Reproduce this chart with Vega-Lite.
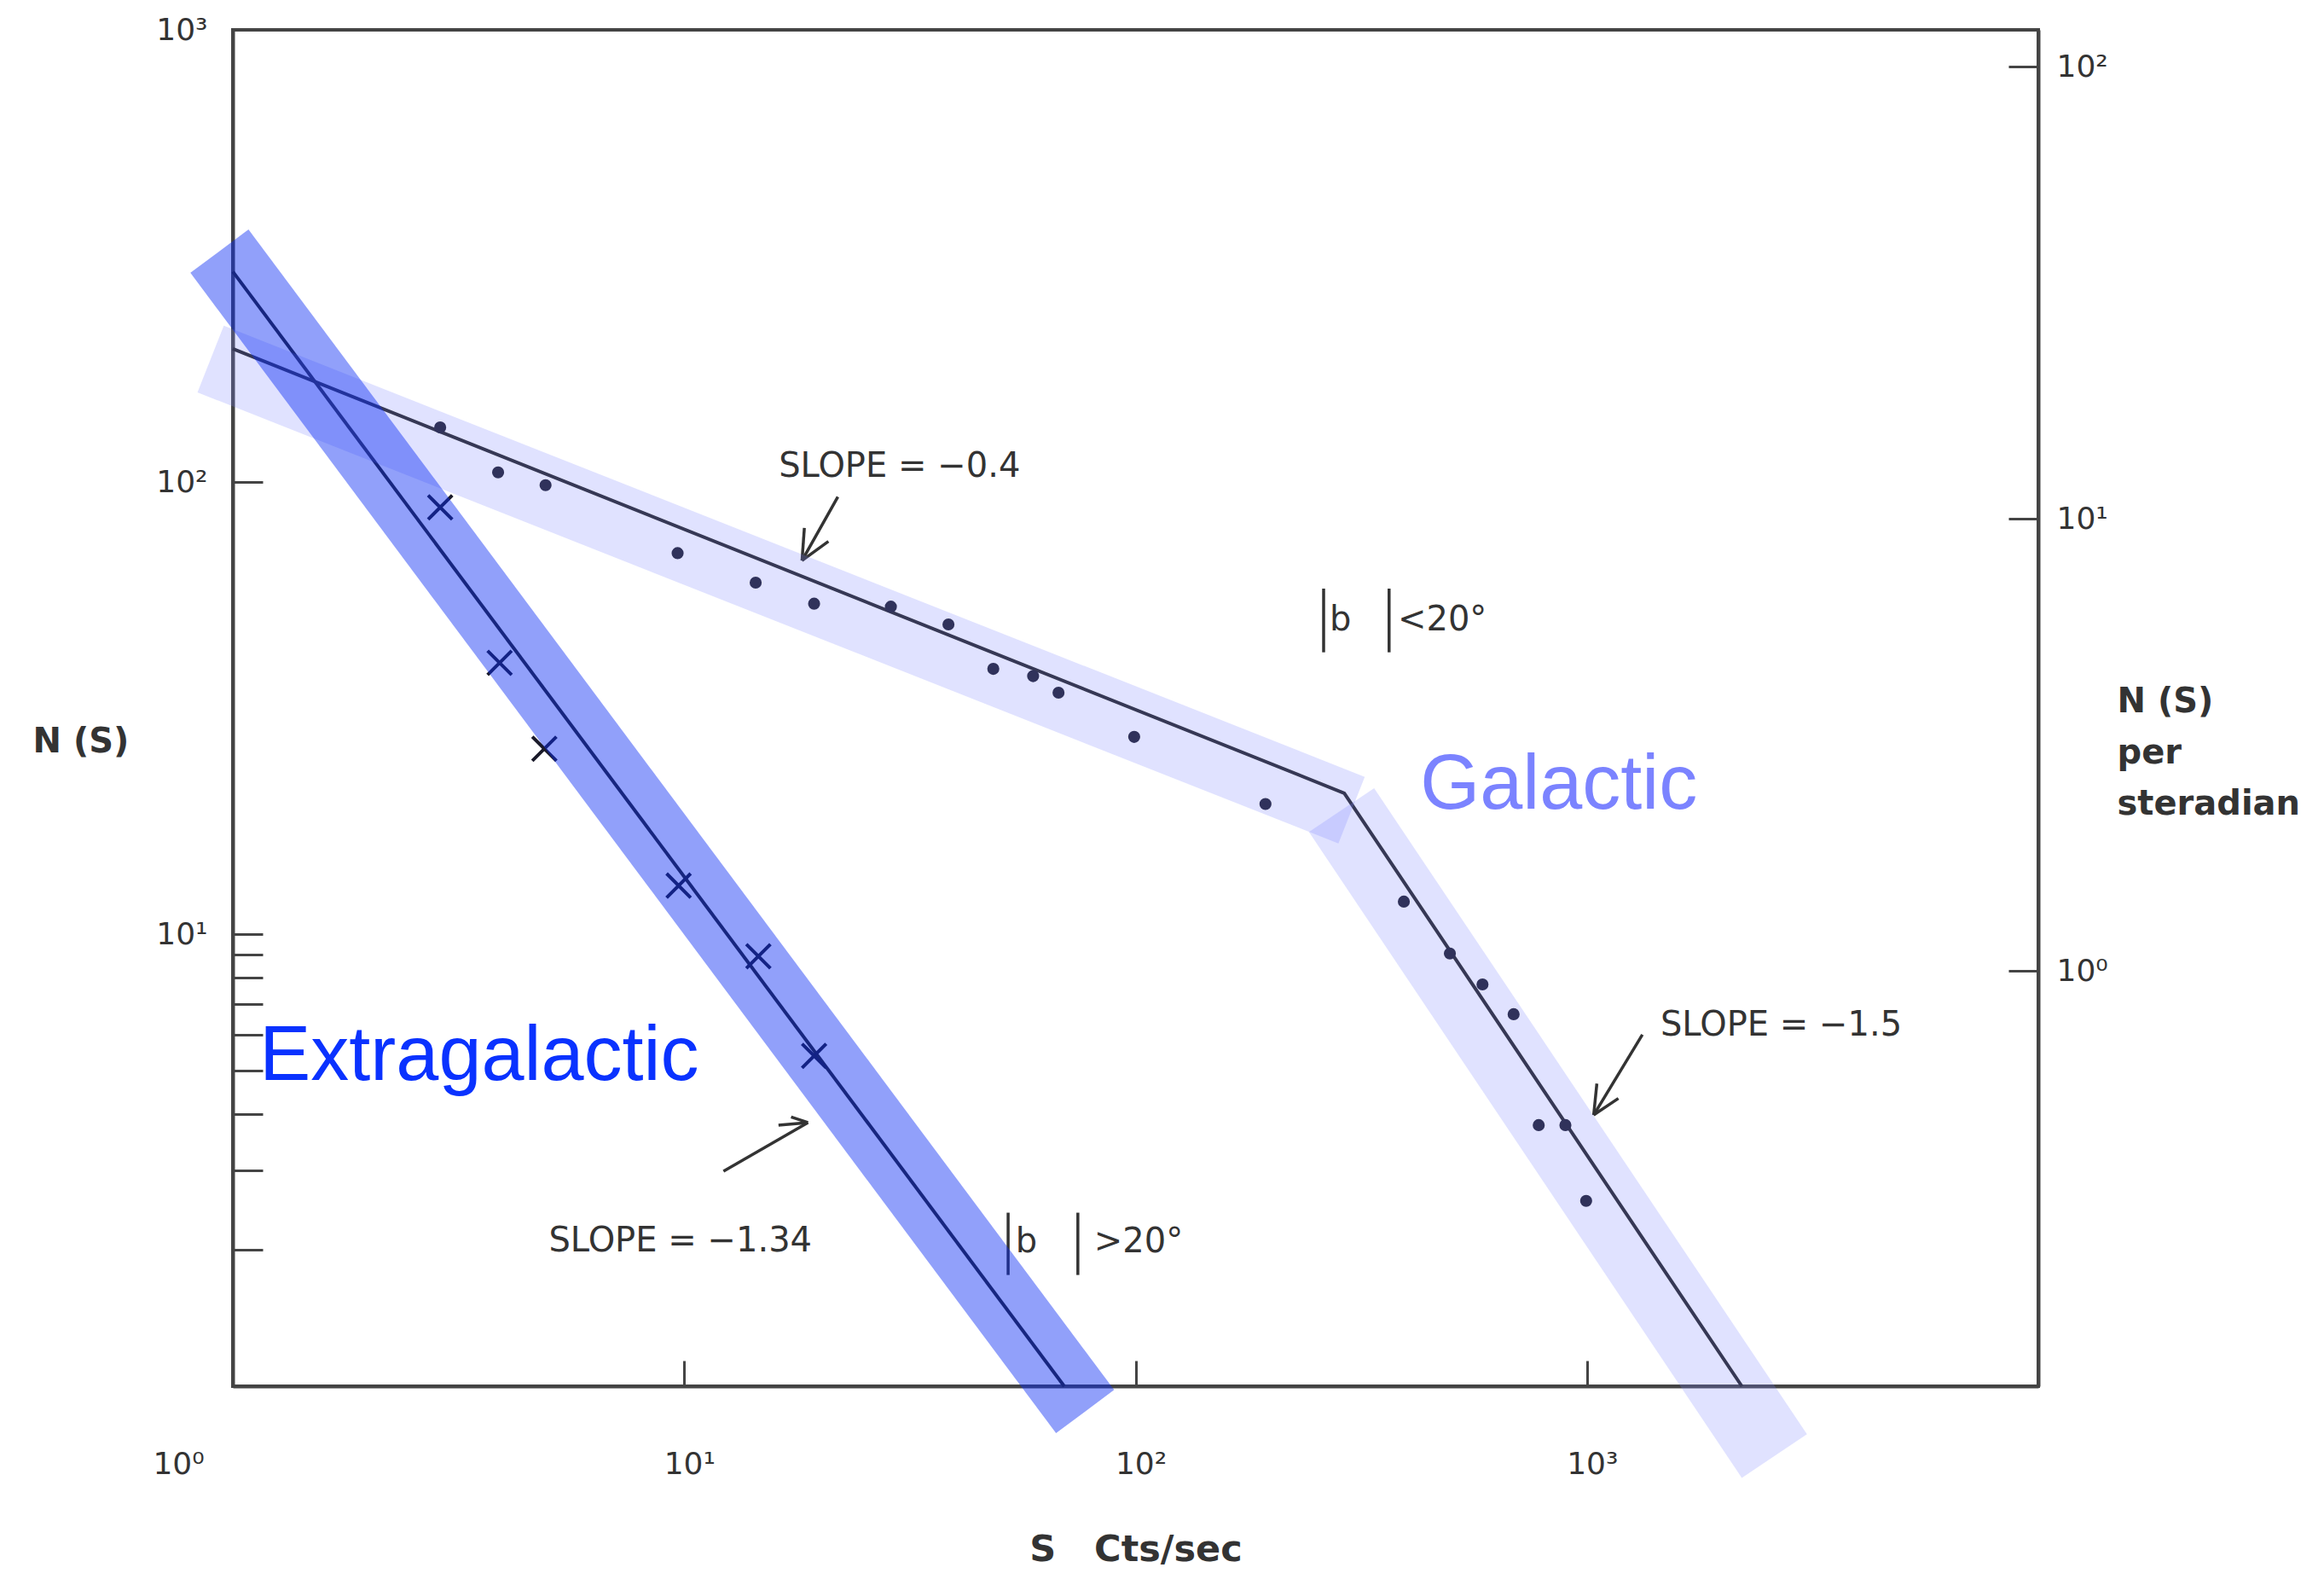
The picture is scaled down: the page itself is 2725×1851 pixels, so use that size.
{
  "$schema": "https://vega.github.io/schema/vega-lite/v6.json",
  "width": 2117,
  "height": 1590,
  "autosize": {"type": "none"},
  "padding": {"left": 273, "top": 35, "right": 335, "bottom": 226},
  "background": "white",
  "config": {
    "view": {"stroke": "#444", "strokeWidth": 4},
    "font": "DejaVu Sans"
  },
  "datasets": {
    "fits": [
      {"series": "extra", "S": 1, "N": 292},
      {"series": "extra", "S": 69.5, "N": 1},
      {"series": "gal", "S": 1, "N": 197},
      {"series": "gal", "S": 290, "N": 20.5},
      {"series": "gal", "S": 2204, "N": 1}
    ],
    "dots": [
      {"S": 2.88, "N": 132}, {"S": 3.87, "N": 105}, {"S": 4.93, "N": 98.4},
      {"S": 9.67, "N": 69.6}, {"S": 14.4, "N": 59.9}, {"S": 19.4, "N": 53.8},
      {"S": 28.7, "N": 53.0}, {"S": 38.5, "N": 48.4}, {"S": 48.4, "N": 38.6},
      {"S": 59.3, "N": 37.2}, {"S": 67.5, "N": 34.2}, {"S": 99.3, "N": 27.3},
      {"S": 194, "N": 19.4}, {"S": 393, "N": 11.8}, {"S": 497, "N": 9.06},
      {"S": 587, "N": 7.74}, {"S": 688, "N": 6.65}, {"S": 782, "N": 3.78},
      {"S": 896, "N": 3.78}, {"S": 996, "N": 2.57}
    ],
    "crosses": [
      {"S": 2.88, "N": 87.9}, {"S": 3.90, "N": 39.8}, {"S": 4.90, "N": 25.7},
      {"S": 9.72, "N": 12.8}, {"S": 14.6, "N": 8.93}, {"S": 19.4, "N": 5.38}
    ],
    "bands": [
      {"band": "extra", "S": 0.934, "N": 324}, {"band": "extra", "S": 77.3, "N": 0.879},
      {"band": "gal1", "S": 0.893, "N": 187}, {"band": "gal1", "S": 301, "N": 18.8},
      {"band": "gal2", "S": 286, "N": 18.8}, {"band": "gal2", "S": 2602, "N": 0.701}
    ],
    "notes": [
      {"t": "SLOPE = −0.4", "S": 16.2, "N": 108},
      {"t": "SLOPE = −1.5", "S": 1455, "N": 6.27},
      {"t": "SLOPE = −1.34", "S": 5.01, "N": 2.09},
      {"t": "b", "S": 269, "N": 49.5},
      {"t": "<20°", "S": 381, "N": 49.5},
      {"t": "b", "S": 54.2, "N": 2.08},
      {"t": ">20°", "S": 80.9, "N": 2.08}
    ],
    "segs": [
      {"S": 21.9, "N": 92.7, "S2": 18.24, "N2": 67.0},
      {"S": 20.87, "N": 73.9, "S2": 18.24, "N2": 67.0},
      {"S": 18.46, "N": 79.1, "S2": 18.24, "N2": 67.0},
      {"S": 1327, "N": 5.99, "S2": 1035, "N2": 3.98},
      {"S": 1174, "N": 4.33, "S2": 1035, "N2": 3.98},
      {"S": 1052, "N": 4.67, "S2": 1035, "N2": 3.98},
      {"S": 12.22, "N": 2.99, "S2": 18.8, "N2": 3.83},
      {"S": 16.18, "N": 3.78, "S2": 18.8, "N2": 3.83},
      {"S": 17.25, "N": 3.94, "S2": 18.8, "N2": 3.83},
      {"S": 261, "N": 58.1, "S2": 261, "N2": 42.0},
      {"S": 364.5, "N": 58.1, "S2": 364.5, "N2": 42.0},
      {"S": 52.2, "N": 2.42, "S2": 52.2, "N2": 1.762},
      {"S": 74.5, "N": 2.42, "S2": 74.5, "N2": 1.762}
    ],
    "big": [
      {"t": "Galactic", "S": 427, "N": 21.3, "c": "gal"},
      {"t": "Extragalactic", "S": 1.146, "N": 5.35, "c": "extra"}
    ],
    "right": [
      {"S": 1, "v": 1},
      {"S": 10, "v": 100}
    ]
  },
  "layer": [
    {
      "layer": [
        {
          "data": {"name": "fits"},
          "mark": {"type": "line", "color": "#222", "strokeWidth": 4},
          "encoding": {
            "x": {
              "field": "S", "type": "quantitative",
              "scale": {"type": "log", "domain": [1, 10000], "nice": false},
              "axis": {
                "values": [1, 10, 100, 1000],
                "labelExpr": "datum.value == 1 ? '10⁰' : datum.value == 10 ? '10¹' : datum.value == 100 ? '10²' : '10³'",
                "tickSize": -30, "tickWidth": 3, "tickColor": "#444",
                "domainColor": "#444", "domainWidth": 4,
                "labelFontSize": 36, "labelColor": "#333", "labelPadding": 104,
                "labelOverlap": false, "labelBound": false, "labelFlush": false, "grid": false,
                "labelOffset": {"condition": {"test": "datum.value == 1", "value": -64}, "value": 6},
                "title": "S\u00a0\u00a0\u00a0Cts/sec", "titleFontSize": 43, "titleFontWeight": "bold",
                "titleColor": "#333", "titleY": 191, "titleBaseline": "middle"
              }
            },
            "y": {
              "field": "N", "type": "quantitative",
              "scale": {"type": "log", "domain": [1, 1000], "nice": false},
              "axis": {
                "values": [2, 3, 4, 5, 6, 7, 8, 9, 10, 100, 1000],
                "labelExpr": "datum.value == 1000 ? '10³' : datum.value == 100 ? '10²' : datum.value == 10 ? '10¹' : ''",
                "tickSize": -35, "tickWidth": 3, "tickColor": "#444",
                "domainColor": "#444", "domainWidth": 4,
                "labelFontSize": 36, "labelColor": "#333", "labelPadding": 65,
                "labelOverlap": false, "labelBound": false, "labelFlush": false, "grid": false,
                "title": "N (S)", "titleAngle": 0, "titleAlign": "left", "titleBaseline": "middle",
                "titleX": -235, "titleY": 834, "titleFontSize": 40, "titleFontWeight": "bold", "titleColor": "#333"
              }
            },
            "detail": {"field": "series"}
          }
        },
        {
          "data": {"name": "dots"},
          "mark": {"type": "point", "shape": "circle", "filled": true, "color": "#1a1a2a", "size": 200, "opacity": 1},
          "encoding": {
            "x": {"field": "S", "type": "quantitative"},
            "y": {"field": "N", "type": "quantitative"}
          }
        },
        {
          "data": {"name": "crosses"},
          "mark": {"type": "point", "shape": "M-1,-1L1,1M1,-1L-1,1", "filled": false, "color": "#1a1a2a", "size": 800, "strokeWidth": 4, "opacity": 1},
          "encoding": {
            "x": {"field": "S", "type": "quantitative"},
            "y": {"field": "N", "type": "quantitative"}
          }
        },
        {
          "data": {"name": "segs"},
          "mark": {"type": "rule", "color": "#333", "strokeWidth": 3.5},
          "encoding": {
            "x": {"field": "S", "type": "quantitative"},
            "y": {"field": "N", "type": "quantitative"},
            "x2": {"field": "S2"},
            "y2": {"field": "N2"}
          }
        },
        {
          "data": {"name": "notes"},
          "mark": {"type": "text", "align": "left", "baseline": "middle", "fontSize": 40, "color": "#333", "font": "DejaVu Sans"},
          "encoding": {
            "x": {"field": "S", "type": "quantitative"},
            "y": {"field": "N", "type": "quantitative"},
            "text": {"field": "t"}
          }
        },
        {
          "data": {"name": "big"},
          "mark": {"type": "text", "align": "left", "baseline": "middle", "fontSize": 90, "font": "Liberation Sans"},
          "encoding": {
            "x": {"field": "S", "type": "quantitative"},
            "y": {"field": "N", "type": "quantitative"},
            "text": {"field": "t"},
            "color": {"field": "c", "type": "nominal", "scale": {"domain": ["gal", "extra"], "range": ["#7b83ff", "#0a32ff"]}, "legend": null}
          }
        },
        {
          "data": {"name": "bands"},
          "transform": [{"filter": "datum.band == 'gal1'"}],
          "mark": {"type": "line", "color": "#7880ff", "opacity": 0.23, "strokeWidth": 84, "strokeCap": "butt"},
          "encoding": {
            "x": {"field": "S", "type": "quantitative"},
            "y": {"field": "N", "type": "quantitative"}
          }
        },
        {
          "data": {"name": "bands"},
          "transform": [{"filter": "datum.band == 'gal2'"}],
          "mark": {"type": "line", "color": "#7880ff", "opacity": 0.23, "strokeWidth": 92, "strokeCap": "butt"},
          "encoding": {
            "x": {"field": "S", "type": "quantitative"},
            "y": {"field": "N", "type": "quantitative"}
          }
        },
        {
          "data": {"name": "bands"},
          "transform": [{"filter": "datum.band == 'extra'"}],
          "mark": {"type": "line", "color": "#0a2cf5", "opacity": 0.45, "strokeWidth": 85, "strokeCap": "butt"},
          "encoding": {
            "x": {"field": "S", "type": "quantitative"},
            "y": {"field": "N", "type": "quantitative"}
          }
        }
      ]
    },
    {
      "data": {"name": "right"},
      "mark": {"type": "point", "opacity": 0},
      "encoding": {
        "x": {"field": "S", "type": "quantitative", "scale": {"type": "log", "domain": [1, 10000], "nice": false}},
        "y": {
          "field": "v", "type": "quantitative",
          "scale": {"type": "log", "domain": [0.1208, 120.8], "nice": false},
          "axis": {
            "orient": "right",
            "values": [1, 10, 100],
            "labelExpr": "datum.value == 100 ? '10²' : datum.value == 10 ? '10¹' : '10⁰'",
            "tickSize": -35, "tickWidth": 3, "tickColor": "#444",
            "domainColor": "#444", "domainWidth": 4,
            "labelFontSize": 36, "labelColor": "#333", "labelPadding": 56,
            "labelOverlap": false, "labelBound": false, "labelFlush": false, "grid": false,
            "title": ["N (S)", "per", "steradian"], "titleAngle": 0, "titleAlign": "left", "titleBaseline": "top",
            "titleX": 92, "titleY": 767, "titleFontSize": 40, "titleFontWeight": "bold", "titleColor": "#333",
            "titleLineHeight": 60
          }
        }
      }
    }
  ],
  "resolve": {"scale": {"y": "independent"}}
}
